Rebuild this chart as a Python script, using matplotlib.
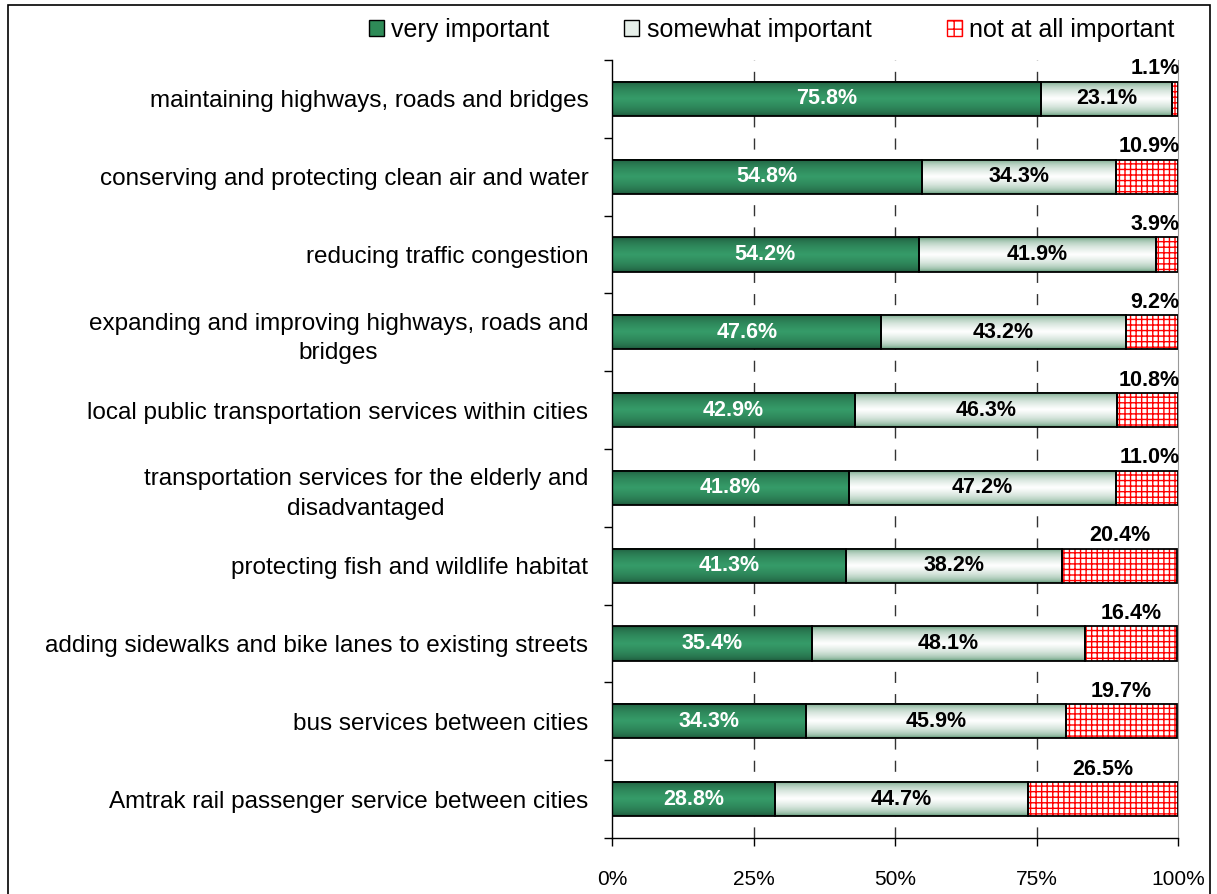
import numpy as np
import matplotlib
matplotlib.use('Agg')
import matplotlib.pyplot as plt
from matplotlib.patches import Patch, Rectangle

plt.rcParams['font.family'] = ['Liberation Sans', 'DejaVu Sans']
plt.rcParams['hatch.linewidth'] = 1.0

categories = [
    'maintaining highways, roads and bridges',
    'conserving and protecting clean air and water',
    'reducing traffic congestion',
    'expanding and improving highways, roads and\nbridges',
    'local public transportation services within cities',
    'transportation services for the elderly and\ndisadvantaged',
    'protecting fish and wildlife habitat',
    'adding sidewalks and bike lanes to existing streets',
    'bus services between cities',
    'Amtrak rail passenger service between cities',
]
very_important = [75.8, 54.8, 54.2, 47.6, 42.9, 41.8, 41.3, 35.4, 34.3, 28.8]
somewhat_important = [23.1, 34.3, 41.9, 43.2, 46.3, 47.2, 38.2, 48.1, 45.9, 44.7]
not_important = [1.1, 10.9, 3.9, 9.2, 10.8, 11.0, 20.4, 16.4, 19.7, 26.5]

BAR_H = 0.44
LBL = 15.5


def gradient(edge, center, power, n=64):
    # vertical fade: edge colour at top/bottom, centre colour in the middle
    t = np.linspace(-1, 1, n)
    w = (1 - np.abs(t)) ** power
    edge = np.array(edge)
    center = np.array(center)
    cols = edge[None, :] + (center - edge)[None, :] * w[:, None]
    return cols[:, None, :]


green_grad = gradient((0.10, 0.30, 0.20), (0.21, 0.61, 0.41), 0.45)
light_grad = gradient((0.18, 0.48, 0.30), (1.0, 1.0, 1.0), 0.35)

fig = plt.figure(figsize=(12.17, 8.94), dpi=100)
ax = fig.add_axes([612 / 1217, 1 - 838 / 894, (1178 - 612) / 1217, (838 - 60) / 894])

for i in range(len(categories)):
    v, s, n = very_important[i], somewhat_important[i], not_important[i]
    y0, y1 = i - BAR_H / 2, i + BAR_H / 2
    ax.imshow(green_grad, extent=[0, v, y1, y0], aspect='auto', zorder=2,
              interpolation='bilinear')
    ax.imshow(light_grad, extent=[v, v + s, y1, y0], aspect='auto', zorder=2,
              interpolation='bilinear')
    ax.barh(i, n, left=v + s, height=BAR_H, color='white', edgecolor='#ff0000',
            hatch='+++', linewidth=0, zorder=2)
    for left, w in [(0, v), (v, s), (v + s, n)]:
        ax.barh(i, w, left=left, height=BAR_H, fill=False, edgecolor='black',
                linewidth=1.3, zorder=3)
    ax.text(v / 2, i, f'{v:.1f}%', ha='center', va='center', color='white',
            fontsize=LBL, fontweight='bold', zorder=4)
    ax.text(v + s / 2, i, f'{s:.1f}%', ha='center', va='center', color='black',
            fontsize=LBL, fontweight='bold', zorder=4)
    cx = v + s + n / 2
    if cx > 94.0:
        ax.text(100.3, y0 - 0.03, f'{n:.1f}%', ha='right', va='bottom',
                fontsize=LBL, fontweight='bold', zorder=4)
    else:
        ax.text(cx, y0 - 0.03, f'{n:.1f}%', ha='center', va='bottom',
                fontsize=LBL, fontweight='bold', zorder=4)

ax.set_xlim(0, 100)
ax.set_ylim(len(categories) - 0.5, -0.5)
ax.set_xticks([0, 25, 50, 75, 100])
ax.set_xticklabels(['0%', '25%', '50%', '75%', '100%'], fontsize=15)
ax.set_yticks(range(len(categories)))
ax.set_yticklabels(categories, fontsize=17.5, multialignment='center', linespacing=1.45)
ax.set_yticks(np.arange(-0.5, len(categories)), minor=True)
ax.tick_params(axis='y', which='major', length=0, pad=17)
ax.tick_params(axis='y', which='minor', length=6, width=1)
ax.tick_params(axis='x', length=6, width=1, pad=17)

for x in [25, 50, 75]:
    ax.axvline(x, color='#333333', linestyle=(0, (8, 8)), linewidth=1, zorder=1)

ax.spines['top'].set_visible(False)
ax.spines['right'].set_color('#999999')
ax.spines['left'].set_linewidth(1)
ax.spines['bottom'].set_linewidth(1)

handles = [
    Patch(facecolor='#2e8b57', edgecolor='black', label='very important'),
    Patch(facecolor='#e6efe9', edgecolor='black', label='somewhat important'),
    Patch(facecolor='white', edgecolor='#ff0000', hatch='++', label='not at all important'),
]
fig.legend(handles=handles, loc='center right', bbox_to_anchor=(1197 / 1217, 1 - 30 / 894),
           ncol=3, frameon=False, fontsize=18, handlelength=0.6, handleheight=0.6,
           handletextpad=0.3, columnspacing=3.0)

fig.patches.append(Rectangle((8 / 1217, -0.05), 1202 / 1217, 1.05 - 5 / 894,
                             transform=fig.transFigure, fill=False,
                             edgecolor='black', linewidth=1.2))

fig.savefig('out.png', dpi=100)
